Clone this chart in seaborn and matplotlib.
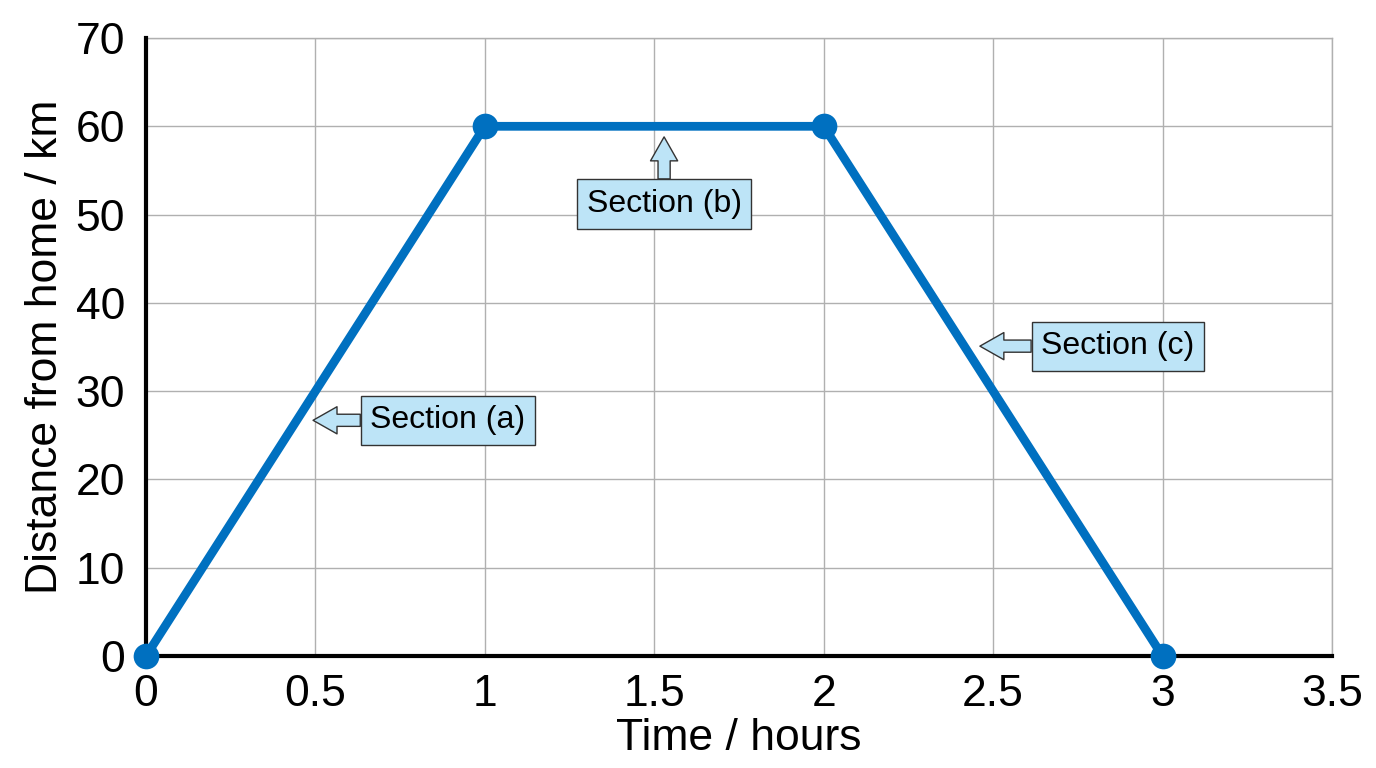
import matplotlib
matplotlib.use('Agg')
import matplotlib.pyplot as plt
import seaborn as sns
import pandas as pd

# journey data
time_h = [0, 1, 2, 3]
dist_km = [0, 60, 60, 0]

# callouts: label, arrow tip (x, y), box centre (x, y)
call_labels = ['Section (a)', 'Section (b)', 'Section (c)']
call_tips = [(0.493, 26.7), (1.529, 58.8), (2.461, 35.1)]
call_boxes = [(0.891, 26.7), (1.529, 51.2), (2.868, 35.1)]

df = pd.DataFrame({'t': time_h, 'd': dist_km})

sns.set_style('whitegrid')
plt.rcParams['font.family'] = ['Liberation Sans', 'DejaVu Sans']
plt.rcParams['text.color'] = 'black'
plt.rcParams['axes.labelcolor'] = 'black'
plt.rcParams['xtick.color'] = 'black'
plt.rcParams['ytick.color'] = 'black'

fig = plt.figure(figsize=(13.76, 7.68), dpi=100)
ax = fig.add_axes([0.1061, 0.1458, 0.8619, 0.8047])

sns.lineplot(data=df, x='t', y='d', ax=ax, color='#0070C0', linewidth=6.3,
             marker='o', markersize=18.5, markeredgewidth=0, clip_on=False, zorder=5)

ax.set_xlim(0, 3.5)
ax.set_ylim(0, 70)
ax.set_xticks([0, 0.5, 1, 1.5, 2, 2.5, 3, 3.5])
ax.set_xticklabels(['0', '0.5', '1', '1.5', '2', '2.5', '3', '3.5'])
ax.set_yticks(range(0, 71, 10))
ax.tick_params(labelsize=32, length=0)
ax.tick_params(axis='x', pad=13)
ax.tick_params(axis='y', pad=15)
ax.grid(True, color='#b0b0b0', linewidth=1)
for s in ['top', 'right']:
    ax.spines[s].set_color('#b0b0b0')
    ax.spines[s].set_linewidth(1)
for s in ['left', 'bottom']:
    ax.spines[s].set_color('black')
    ax.spines[s].set_linewidth(3)
    ax.spines[s].set_zorder(4)

ax.set_xlabel('Time / hours', fontsize=32, labelpad=2)
ax.set_ylabel('Distance from home / km', fontsize=32, labelpad=7)

for lab, tip, box in zip(call_labels, call_tips, call_boxes):
    ax.annotate(lab, xy=tip, xytext=box, fontsize=23, ha='center', va='center',
                bbox=dict(boxstyle='square,pad=0.3', fc='#BDE4F7', ec='#333333', lw=1),
                arrowprops=dict(arrowstyle='simple,head_length=0.75,head_width=0.85,tail_width=0.38',
                                fc='#BDE4F7', ec='#333333', lw=1, shrinkA=0, shrinkB=0),
                zorder=6)

fig.savefig('out.png', dpi=100)
